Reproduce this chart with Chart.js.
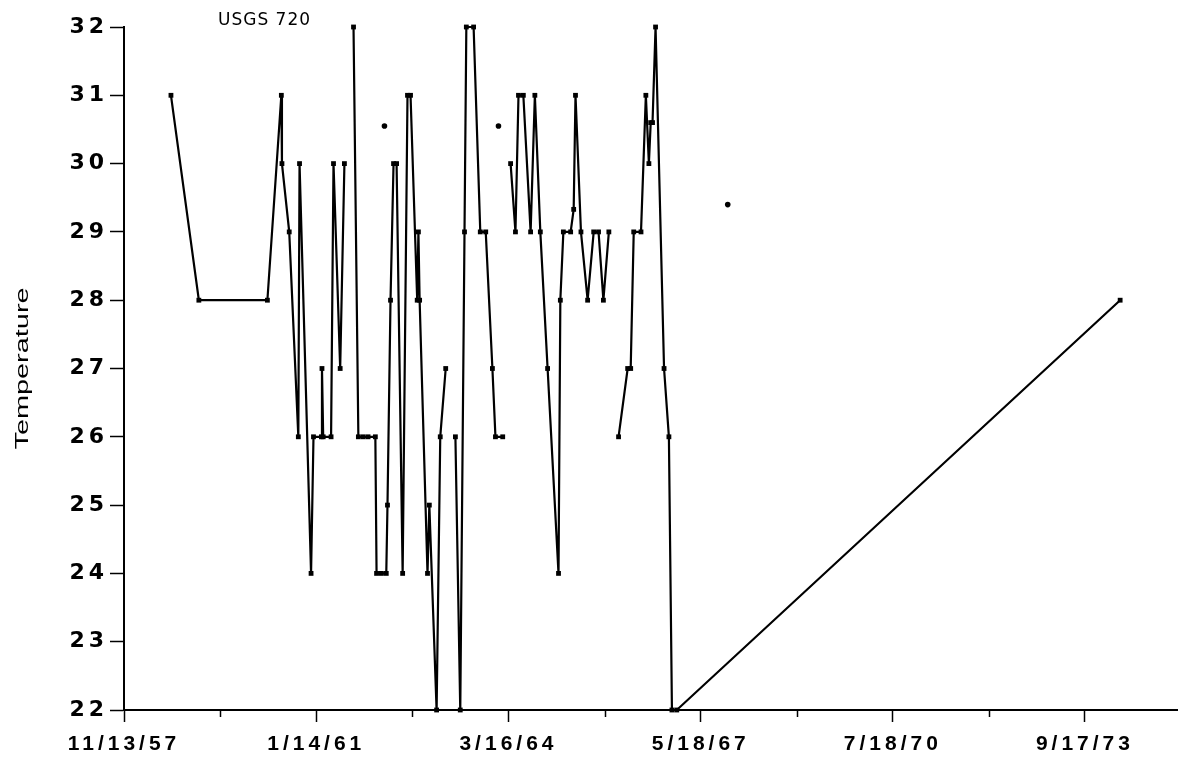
<!DOCTYPE html>
<html>
<head>
<meta charset="utf-8">
<script src="https://cdn.jsdelivr.net/npm/chart.js@4.4.1/dist/chart.umd.min.js"></script>
<style>
html,body{margin:0;padding:0;background:#fff;}
#wrap{width:1181px;height:759px;position:relative;}
</style>
</head>
<body>
<div id="wrap"><canvas id="c"></canvas></div>
<script>
// ---- data (x = decimal year, y = temperature; null = gap) ----
const chartTitle = 'USGS 720';
const yTitle = 'Temperature';
const tickLabels = ['11/13/57','1/14/61','3/16/64','5/18/67','7/18/70','9/17/73'];
const axisRange = ['11/13/57','3/25/75'];
const yTickValues = [22,23,24,25,26,27,28,29,30,31,32];

const dates = [
  1958.64,1959.10,1960.23,1960.46,1960.47,1960.59,1960.74,1960.76,1960.95,1960.99,
  1961.12,1961.13,1961.15,1961.28,1961.32,1961.43,1961.50,
  1961.57,
  1961.65,1961.73,1961.81,1961.89,1962.01,1962.03,1962.11,1962.19,1962.21,1962.26,
  1962.31,1962.36,1962.46,1962.54,1962.59,1962.70,1962.72,1962.74,1962.87,1962.90,
  1963.02,1963.08,1963.17,
  1963.25,
  1963.33,1963.41,1963.48,1963.51,1963.63,1963.74,1963.83,1963.94,1963.99,1964.11,
  1964.17,
  1964.24,1964.32,1964.37,1964.45,1964.57,1964.64,1964.73,1964.85,1965.03,1965.06,
  1965.11,1965.23,1965.28,1965.31,1965.40,1965.51,1965.61,1965.69,1965.77,1965.86,
  1965.94,
  1966.02,1966.17,1966.22,1966.27,1966.39,1966.47,1966.52,1966.55,1966.58,1966.63,
  1966.77,1966.85,1966.90,1966.98,1974.29
];
const temps = [
  31,28,28,31,30,29,26,30,24,26,
  26,27,26,26,30,27,30,
  null,
  32,26,26,26,26,24,24,24,25,28,
  30,30,24,31,31,28,29,28,24,25,
  22,26,27,
  null,
  26,22,29,32,32,29,29,27,26,26,
  null,
  30,29,31,31,29,31,29,27,24,28,
  29,29,29.33,31,29,28,29,29,28,29,
  null,
  26,27,27,29,29,31,30,30.6,30.6,32,
  27,26,22,22,28
];
// isolated single readings
const loneDates = [1962.16,1964.04,1967.82];
const loneTemps = [30.55,30.55,29.4];

// ---- helpers ----
function toYear(s){
  const p = s.split('/').map(Number);
  const Y = 1900 + p[2];
  const a = Date.UTC(Y,0,1), b = Date.UTC(Y+1,0,1);
  return Y + (Date.UTC(Y,p[0]-1,p[1]) - a) / (b - a);
}
const majorVals = tickLabels.map(toYear);
const xMin = toYear(axisRange[0]), xMax = toYear(axisRange[1]);
const minorVals = [];
for (let i=0;i<majorVals.length;i++){
  const step = (i < majorVals.length-1) ? majorVals[i+1]-majorVals[i] : majorVals[i]-majorVals[i-1];
  const m = majorVals[i] + step/2;
  if (m <= xMax + 1e-6) minorVals.push(m);
}
function isMajor(v){ return majorVals.some(m => Math.abs(m - v) < 1e-6); }

const YFONT = '"DejaVu Sans", "Liberation Sans", sans-serif';
const FONT = '"Liberation Sans", Arial, sans-serif';

const spacingPlugin = {
  id: 'spacing',
  beforeDraw(chart){ chart.ctx.letterSpacing = '4px'; },
  beforeDatasetsDraw(chart){ chart.ctx.letterSpacing = '0px'; }
};

const decorPlugin = {
  id: 'decor',
  afterDraw(chart){
    const ctx = chart.ctx, area = chart.chartArea, xs = chart.scales.x;
    ctx.save();
    ctx.letterSpacing = '0px';
    // minor x ticks
    ctx.strokeStyle = '#000'; ctx.lineWidth = 1.5;
    minorVals.forEach(v => {
      const px = Math.round(xs.getPixelForValue(v)) + 0.5;
      ctx.beginPath(); ctx.moveTo(px, area.bottom); ctx.lineTo(px, area.bottom + 7); ctx.stroke();
    });
    // title inside top-left
    ctx.fillStyle = '#000';
    ctx.font = '17px "DejaVu Sans", sans-serif';
    ctx.textAlign = 'left'; ctx.textBaseline = 'middle';
    ctx.letterSpacing = '1px';
    ctx.fillText(chartTitle, area.left + 94, area.top - 6);
    // y title
    ctx.letterSpacing = '0px';
    ctx.font = '19px ' + FONT;
    ctx.translate(23, (area.top + area.bottom)/2);
    ctx.rotate(-Math.PI/2);
    ctx.scale(1.52, 1);
    ctx.textAlign = 'center';
    ctx.fillText(yTitle, 0, 0);
    ctx.restore();
  }
};

new Chart(document.getElementById('c'), {
  type: 'line',
  data: {
    datasets: [
      {
        data: dates.map((x,i) => ({x, y: temps[i]})),
        borderColor: '#000',
        borderWidth: 2.2,
        backgroundColor: '#000',
        pointStyle: 'rect',
        pointRadius: 3.4,
        pointBorderWidth: 0,
        pointBackgroundColor: '#000',
        tension: 0,
        spanGaps: false,
        clip: 8
      },
      {
        data: loneDates.map((x,i) => ({x, y: loneTemps[i]})),
        showLine: false,
        pointStyle: 'circle',
        pointRadius: 2.8,
        pointBorderWidth: 0,
        pointBackgroundColor: '#000',
        clip: 8
      }
    ]
  },
  options: {
    responsive: true,
    maintainAspectRatio: false,
    animation: false,
    layout: { padding: { top: 27, right: 1, left: 0, bottom: 0 } },
    plugins: { legend: { display: false }, tooltip: { enabled: false }, title: { display: false } },
    scales: {
      x: {
        type: 'linear',
        min: xMin, max: xMax,
        afterBuildTicks(s){ s.ticks = majorVals.concat(minorVals).sort((a,b)=>a-b).map(v => ({value: v})); },
        afterFit(s){ s.height = 49; s.paddingLeft = 0; s.paddingRight = 0; },
        grid: {
          drawOnChartArea: false, drawTicks: true, tickLength: 12, tickWidth: 1.5,
          tickColor: c => (c.tick && isMajor(c.tick.value)) ? '#000' : 'rgba(0,0,0,0)'
        },
        border: { display: true, color: '#000', width: 2 },
        ticks: {
          autoSkip: false, maxRotation: 0, padding: 10, color: '#000',
          font: { family: FONT, size: 21, weight: 'bold' },
          callback: v => { const i = majorVals.findIndex(m => Math.abs(m - v) < 1e-6); return i >= 0 ? tickLabels[i] : ''; }
        }
      },
      y: {
        type: 'linear',
        min: 22, max: 32,
        afterBuildTicks(s){ s.ticks = yTickValues.map(v => ({value: v})); },
        afterFit(s){ s.width = 124; s.paddingTop = 0; s.paddingBottom = 0; },
        grid: { drawOnChartArea: false, drawTicks: true, tickLength: 14, tickWidth: 1.5, tickColor: '#000' },
        border: { display: true, color: '#000', width: 2 },
        ticks: {
          padding: 2, color: '#000',
          font: { family: YFONT, size: 22, weight: 'bold' }
        }
      }
    }
  },
  plugins: [spacingPlugin, decorPlugin]
});
</script>
</body>
</html>
